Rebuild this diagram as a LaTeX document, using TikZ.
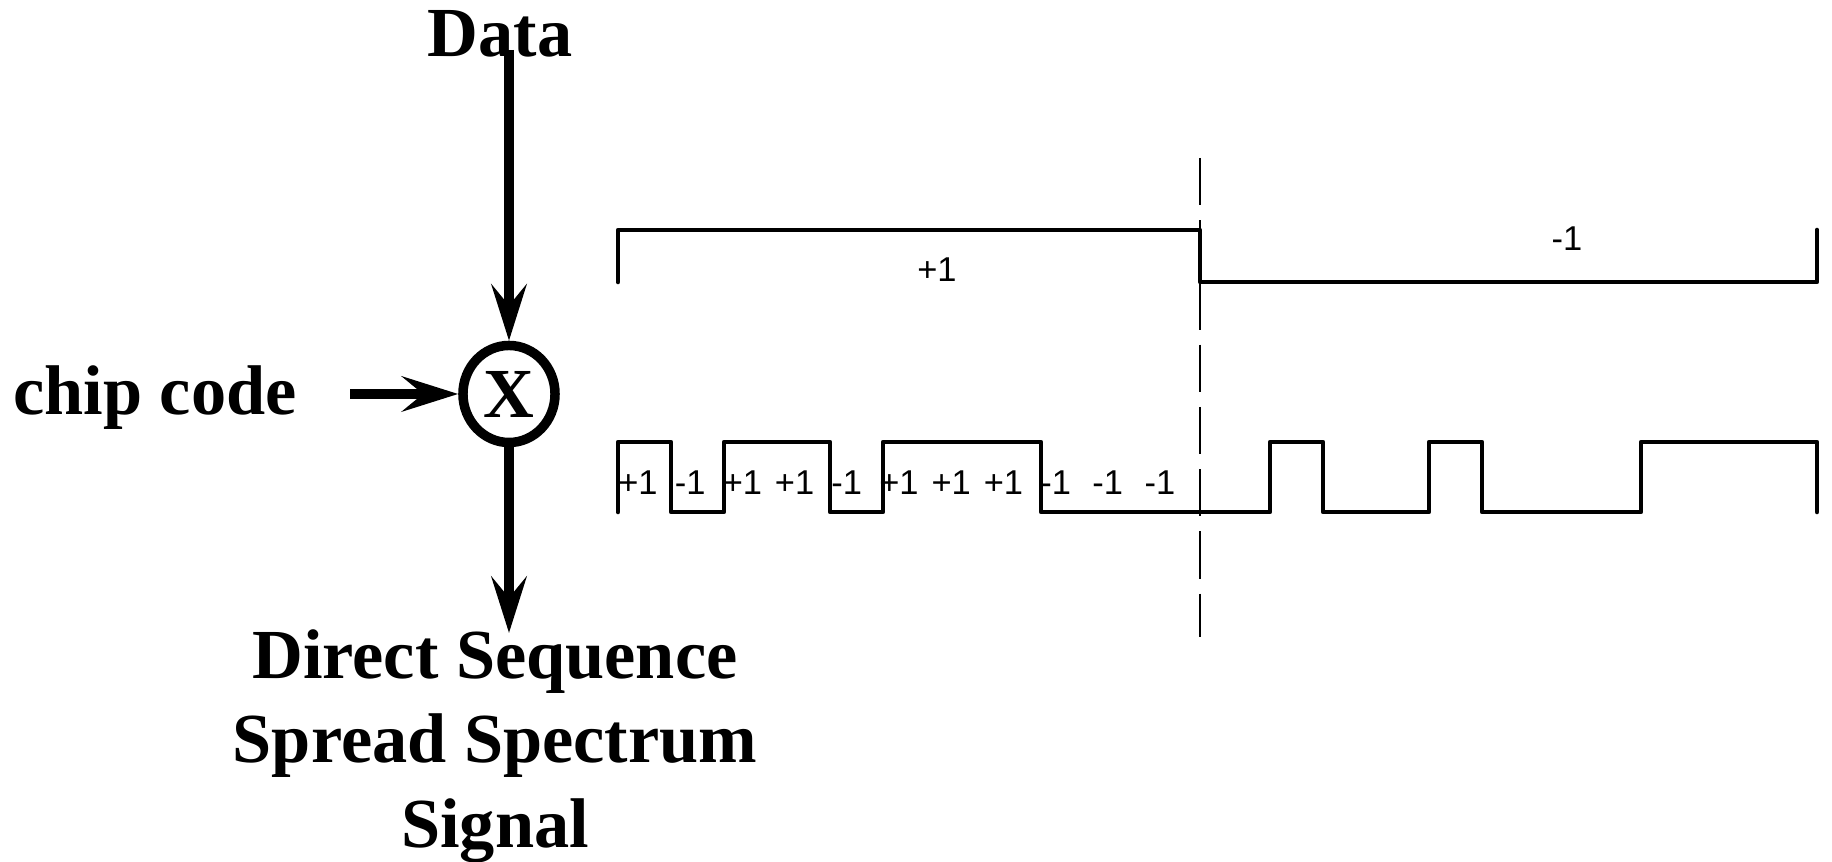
\documentclass[tikz,border=0pt]{standalone}
\usepackage{fontspec}
\setmainfont{Liberation Serif}
\newfontfamily\numfont{Liberation Sans}
\usetikzlibrary{arrows.meta,shapes.geometric}

\begin{document}
\begin{tikzpicture}[x=0.01cm,y=-0.01cm,
   bigtext/.style={font=\fontsize{20}{24}\selectfont\bfseries},
   numtext/.style={font=\numfont\fontsize{9.8}{11}\selectfont,inner sep=0pt},
   bigarrow/.style={line width=3.1pt,-{Stealth[length=16pt,width=10pt,inset=6pt]}},
   wave/.style={line width=1.3pt,line cap=round,line join=round},
   mixer/.style={draw,ellipse,line width=2.7pt,minimum width=0.92cm,minimum height=0.97cm,inner sep=0pt}]
\useasboundingbox (0,0) rectangle (1832,862);
\node[mixer,bigtext] (mult) at (509,394) {X};
\node[bigtext,anchor=base] (data) at (500,57) {Data};
\node[bigtext,anchor=base] (chip) at (155,415) {chip code};
\node[bigtext,anchor=north,align=center] (dsss) at (495,617) {Direct Sequence\\Spread Spectrum\\Signal};
\coordinate (datain) at ([yshift=2pt]data.base -| mult.north);
\coordinate (chipin) at (350,394);
\coordinate (dsssout) at (509,633);
\draw[bigarrow] (datain) -- (mult.north);
\draw[bigarrow] (chipin) -- (mult.west);
\draw[bigarrow] (mult.south) -- (dsssout);
\draw[wave] (618,282) |- (1200,230) |- (1817,282) -- (1817,230);
\node[numtext] (bit1) at (937,270) {+1};
\node[numtext] (bit2) at (1567,239) {-1};
\draw[wave] (618,512) |- (671,442) |- (724,512) |- (830,442) |- (883,512) |- (1041,442) |- (1270,512)
   |- (1323,442) |- (1429,512) |- (1482,442) |- (1641,512) |- (1817,442) -- (1817,512);
\foreach \v [count=\i from 0] in {+1,-1,+1,+1,-1,+1,+1,+1,-1,-1,-1}
   \node[numtext] (c\i) at (638+52.2*\i,483) {\v};
\draw[line width=0.4pt,dash pattern=on 13.4pt off 4.3pt] (1200,158) -- (1200,637);
\end{tikzpicture}
\end{document}
